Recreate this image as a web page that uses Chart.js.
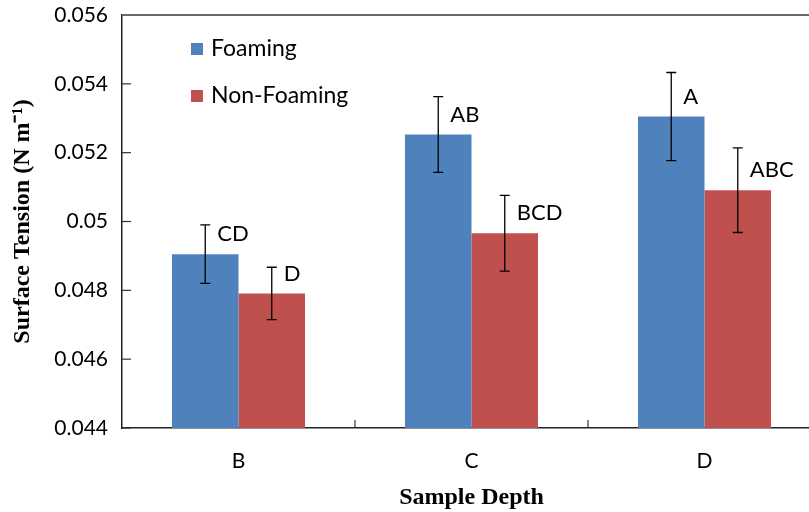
<!DOCTYPE html>
<html>
<head>
<meta charset="utf-8">
<script src="https://cdn.jsdelivr.net/npm/chart.js@4.4.1/dist/chart.umd.min.js"></script>
<style>
  html, body { margin: 0; padding: 0; background: #fff; }
  #wrap { width: 809px; height: 512px; overflow: hidden; }
</style>
</head>
<body>
<div id="wrap"><canvas id="graph1" width="830" height="512"></canvas></div>
<script>
const categories = ['B', 'C', 'D'];
const foaming = [0.04905, 0.05253, 0.05305];
const foamingErr = [0.00085, 0.0011, 0.00128];
const nonFoaming = [0.04791, 0.04966, 0.05091];
const nonFoamingErr = [0.00076, 0.0011, 0.00123];
const foamingLetters = ['CD', 'AB', 'A'];
const nonFoamingLetters = ['D', 'BCD', 'ABC'];

const errors = [foamingErr, nonFoamingErr];
const letters = [foamingLetters, nonFoamingLetters];

// error bars, letters, inward ticks, top border, legend inside the plot
const extras = {
    id: 'extras',
    afterDatasetsDraw(chart) {
        const ctx = chart.ctx;
        const area = chart.chartArea;
        const y = chart.scales.y;
        const x = chart.scales.x;
        ctx.save();

        // error bars
        ctx.strokeStyle = '#000';
        ctx.lineWidth = 1.3;
        chart.data.datasets.forEach(function (ds, d) {
            const meta = chart.getDatasetMeta(d);
            meta.data.forEach(function (bar, i) {
                const v = ds.data[i];
                const e = errors[d][i];
                const yt = y.getPixelForValue(v + e);
                const yb = y.getPixelForValue(v - e);
                ctx.beginPath();
                ctx.moveTo(bar.x, yt); ctx.lineTo(bar.x, yb);
                ctx.moveTo(bar.x - 5, yt); ctx.lineTo(bar.x + 5, yt);
                ctx.moveTo(bar.x - 5, yb); ctx.lineTo(bar.x + 5, yb);
                ctx.stroke();
            });
        });

        // significance letters
        ctx.fillStyle = '#000';
        ctx.font = '22px Lato';
        ctx.textAlign = 'left';
        ctx.textBaseline = 'middle';
        chart.data.datasets.forEach(function (ds, d) {
            const meta = chart.getDatasetMeta(d);
            meta.data.forEach(function (bar, i) {
                ctx.fillText(letters[d][i], bar.x + 12, bar.y - 20);
            });
        });

        // inward tick marks
        ctx.strokeStyle = '#333';
        ctx.lineWidth = 1.2;
        y.ticks.forEach(function (t, i) {
            const py = y.getPixelForTick(i);
            ctx.beginPath();
            ctx.moveTo(area.left, py); ctx.lineTo(area.left + 9, py);
            ctx.stroke();
        });
        for (let i = 1; i < categories.length; i++) {
            const px = (x.getPixelForTick(i - 1) + x.getPixelForTick(i)) / 2;
            ctx.beginPath();
            ctx.moveTo(px, area.bottom); ctx.lineTo(px, area.bottom - 8);
            ctx.stroke();
        }

        // top border
        ctx.strokeStyle = '#6b6b6b';
        ctx.lineWidth = 2;
        ctx.beginPath();
        ctx.moveTo(area.left, area.top); ctx.lineTo(area.right, area.top);
        ctx.stroke();

        // legend
        ctx.font = '23px Lato';
        chart.data.datasets.forEach(function (ds, d) {
            const ly = 49 + d * 47;
            ctx.fillStyle = ds.backgroundColor;
            ctx.fillRect(191, ly - 6, 12, 12);
            ctx.fillStyle = '#000';
            ctx.fillText(ds.label, 211, ly);
        });
        ctx.restore();
    }
};

const ctx = document.getElementById('graph1');
const data = {
    "labels": categories,
    "datasets": [
        {
            "label": "Foaming",
            "backgroundColor": "#4F81BD",
            "data": foaming,
            "categoryPercentage": 0.571,
            "barPercentage": 1.0
        },
        {
            "label": "Non-Foaming",
            "backgroundColor": "#C0504D",
            "data": nonFoaming,
            "categoryPercentage": 0.571,
            "barPercentage": 1.0
        }
    ]
};
const options = {
    responsive: false,
    animation: false,
    layout: { padding: { top: 15, right: 9, left: 0, bottom: 0 } },
    plugins: {
        legend: { display: false },
        tooltip: { enabled: false }
    },
    scales: {
        x: {
            grid: { display: false },
            border: { display: true, color: '#222', width: 1.5 },
            ticks: { color: '#000', font: { family: 'Lato', size: 21 }, padding: 13 },
            title: {
                display: true,
                text: 'Sample Depth',
                color: '#000',
                font: { family: 'Liberation Serif', size: 24, weight: 'bold' },
                padding: { top: 0, bottom: 0 }
            },
            afterFit: function (scale) {
                scale.height = 84;
                scale.paddingLeft = 0;
                scale.paddingRight = 0;
            }
        },
        y: {
            min: 0.044,
            max: 0.056,
            grid: { display: false },
            border: { display: true, color: '#222', width: 1.5 },
            ticks: {
                stepSize: 0.002,
                color: '#000',
                padding: 6,
                font: { family: 'Lato', size: 21 },
                callback: function (v) { return String(+v.toFixed(3)); }
            },
            title: {
                display: true,
                text: 'Surface Tension (N m\u207B\u00B9)',
                color: '#000',
                font: { family: 'Liberation Serif', size: 24, weight: 'bold' },
                padding: { top: 8, bottom: 0 }
            },
            afterFit: function (scale) {
                scale.width = 122;
                scale.paddingTop = 0;
                scale.paddingBottom = 0;
            }
        }
    }
};

new Chart(ctx, {
    type: 'bar',
    data: data,
    options: options,
    plugins: [extras]
});
</script>
</body>
</html>
